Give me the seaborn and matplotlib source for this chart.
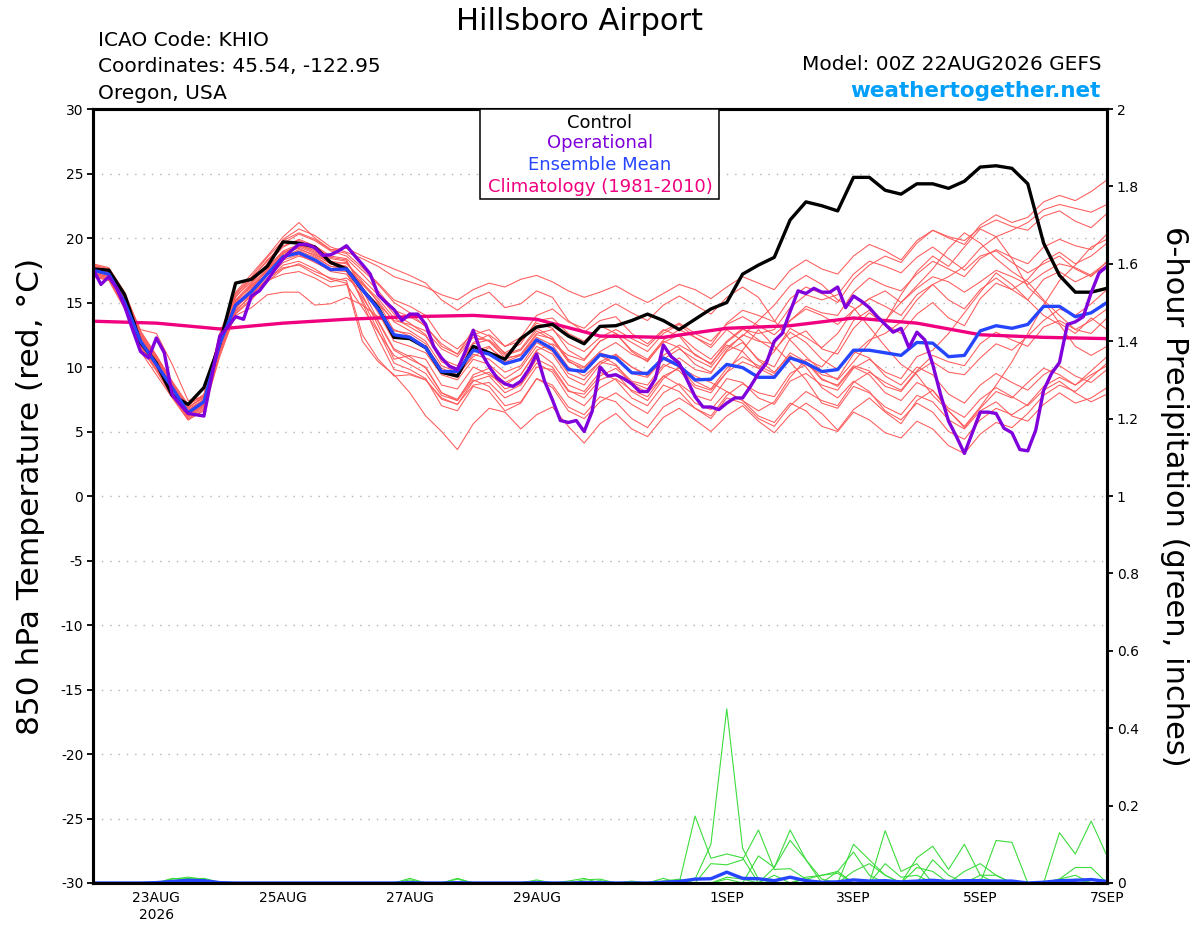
import numpy as np
import pandas as pd
import matplotlib
matplotlib.use("Agg")
import matplotlib.pyplot as plt
import matplotlib.patches as mpatches
import seaborn as sns

sns.set_style("white")
plt.rcParams['font.family'] = ['DejaVu Sans']
plt.rcParams['axes.unicode_minus'] = False
plt.rcParams['text.color'] = 'black'
plt.rcParams['xtick.color'] = 'black'
plt.rcParams['ytick.color'] = 'black'
plt.rcParams['axes.labelcolor'] = 'black'

RUN_START = "2026-08-22 00:00"

# 6-hourly control run, 850 hPa temperature (C)
control = [17.6, 17.5, 15.6, 11.9, 10.3, 7.8, 7.1, 8.4, 11.8, 16.5, 16.8, 17.8, 19.7,
           19.6, 19.3, 18.1, 17.6, 16.0, 14.6, 12.3, 12.2, 11.5, 9.6, 9.3, 11.6, 11.1,
           10.6, 12.2, 13.1, 13.3, 12.4, 11.8, 13.15, 13.2, 13.6, 14.1, 13.6, 12.9, 13.7,
           14.5, 15.0, 17.2, 17.9, 18.5, 21.4, 22.8, 22.5, 22.1, 24.7, 24.7, 23.7, 23.4,
           24.2, 24.2, 23.85, 24.4, 25.5, 25.6, 25.4, 24.2, 19.6, 17.1, 15.8, 15.8, 16.1]

# 3-hourly operational run
operational = [17.6, 16.4, 17.0, 16.1, 14.7, 12.9, 11.2, 10.7, 12.25, 11.1, 7.85, 7.1, 6.4, 6.3, 6.2, 9.3,
               12.4, 13.1, 13.9, 13.7, 15.5, 15.9, 16.7, 17.6, 18.4, 19.0, 19.5, 19.5, 19.25, 18.65, 18.7, 19.0,
               19.4, 18.65, 17.95, 17.2, 15.6, 15.0, 14.45, 13.6, 14.1, 14.1, 13.3, 11.6, 10.7, 10.05, 9.8, 11.2,
               12.85, 11.1, 10.05, 9.15, 8.7, 8.5, 8.9, 9.8, 11.0, 8.9, 7.45, 5.85, 5.7, 5.85, 5.0, 6.55,
               10.0, 9.3, 9.4, 9.1, 8.7, 8.1, 8.1, 9.1, 11.7, 10.8, 10.3, 9.0, 7.7, 6.9, 6.9, 6.7,
               7.2, 7.6, 7.6, 8.5, 9.5, 10.3, 12.0, 12.6, 14.3, 15.9, 15.7, 16.1, 15.8, 15.8, 16.2, 14.6,
               15.5, 15.1, 14.6, 13.9, 13.3, 12.7, 13.0, 11.5, 12.7, 12.1, 10.2, 7.85, 5.8, 4.6, 3.3, 4.9,
               6.5, 6.5, 6.4, 5.25, 4.9, 3.6, 3.5, 5.1, 8.2, 9.5, 10.35, 13.3, 13.5, 13.9, 15.75, 17.3,
               17.8]

# 6-hourly ensemble mean
ens_mean = [17.5, 17.2, 15.0, 12.0, 10.2, 8.4, 6.45, 7.3, 11.8, 14.8, 15.85, 17.2, 18.55,
            18.85, 18.3, 17.55, 17.6, 16.0, 14.5, 12.5, 12.3, 11.5, 9.65, 9.65, 11.3, 11.0,
            10.25, 10.6, 12.1, 11.4, 9.8, 9.65, 10.95, 10.7, 9.55, 9.5, 10.7, 10.1, 9.0,
            9.05, 10.2, 9.95, 9.2, 9.2, 10.7, 10.3, 9.65, 9.8, 11.3, 11.3, 11.1, 10.9,
            11.9, 11.85, 10.8, 10.9, 12.8, 13.2, 13.0, 13.3, 14.7, 14.7, 13.9, 14.2, 15.0]

# daily climatology (1981-2010)
climatology = [13.55, 13.4, 12.95, 13.4, 13.7, 13.9, 14.0, 13.7, 12.4,
               12.3, 13.0, 13.2, 13.8, 13.4, 12.5, 12.3, 12.2]

# 6-hourly ensemble members
members = {
    "p01": [17.9, 17.6, 15.6, 12.6, 10.8, 8.7, 7.0, 7.9, 12.3, 15.6, 16.9, 18.2, 19.6,
            20.3, 19.8, 19.0, 18.6, 17.5, 16.4, 15.0, 14.2, 13.1, 11.8, 11.0, 12.5, 12.9,
            11.6, 12.0, 13.4, 13.0, 11.3, 10.6, 12.0, 12.6, 11.2, 10.4, 12.0, 11.5, 10.2,
            9.6, 11.2, 11.9, 10.6, 10.0, 12.2, 12.8, 11.4, 11.0, 13.0, 14.2, 13.3, 12.6,
            14.1, 15.0, 13.8, 13.2, 15.3, 16.5, 16.0, 16.8, 18.2, 18.9, 18.0, 18.6, 19.6],
    "p02": [17.3, 17.0, 14.9, 11.8, 10.0, 8.0, 6.2, 7.0, 11.6, 15.0, 16.4, 18.0, 19.9,
            20.7, 20.2, 19.3, 18.9, 18.4, 17.8, 17.0, 16.6, 16.2, 15.6, 15.2, 16.0, 16.5,
            16.2, 16.8, 17.1, 16.6, 15.9, 15.4, 15.8, 16.3, 15.6, 15.0, 15.7, 16.4, 16.0,
            15.3, 16.2, 17.0, 16.5, 16.0, 17.5, 18.3, 17.6, 17.2, 18.6, 19.5, 19.0, 18.3,
            19.8, 20.6, 20.0, 19.5, 21.0, 21.8, 21.2, 21.6, 22.8, 23.3, 22.9, 23.6, 24.5],
    "p03": [17.0, 16.7, 14.5, 11.2, 9.4, 7.6, 5.9, 6.6, 10.8, 14.2, 15.3, 16.7, 17.9,
            18.2, 17.6, 16.8, 16.5, 12.0, 10.4, 9.4, 8.0, 6.2, 5.0, 3.6, 5.6, 6.8,
            6.5, 5.2, 6.3, 6.9, 5.4, 4.1, 5.6, 6.4, 5.2, 4.6, 6.1, 6.8, 5.9,
            5.0, 6.2, 7.0, 5.8, 4.9, 6.3, 7.2, 6.4, 5.1, 6.7, 7.6, 6.5, 5.6,
            7.4, 8.2, 6.6, 5.3, 6.8, 8.1, 7.6, 8.8, 9.9, 9.4, 8.6, 9.7, 10.8],
    "p04": [17.7, 17.4, 15.3, 12.3, 10.4, 8.4, 6.5, 7.2, 11.9, 15.2, 16.2, 17.5, 18.7,
            19.3, 18.8, 18.0, 18.1, 16.6, 15.0, 12.8, 12.6, 11.8, 9.5, 9.2, 11.0, 10.6,
            9.6, 10.1, 11.9, 11.2, 9.5, 9.0, 10.4, 10.1, 8.9, 8.6, 10.2, 9.7, 8.4,
            8.0, 9.6, 10.4, 9.9, 11.2, 13.0, 12.3, 11.5, 12.6, 14.4, 15.3, 14.7, 14.0,
            15.6, 16.4, 15.2, 14.5, 16.0, 16.9, 16.0, 15.2, 16.8, 17.4, 16.6, 17.2, 18.1],
    "p05": [17.4, 17.1, 15.0, 12.0, 10.0, 8.1, 6.3, 7.1, 11.3, 14.4, 15.5, 16.9, 18.1,
            18.6, 18.2, 17.4, 17.2, 15.4, 13.5, 11.3, 10.6, 10.0, 8.0, 7.5, 9.2, 9.6,
            8.3, 8.7, 10.6, 10.0, 8.2, 7.6, 9.0, 9.5, 8.1, 7.4, 9.1, 10.0, 9.3,
            8.8, 8.1, 7.4, 6.6, 7.3, 9.2, 10.6, 10.0, 11.4, 13.6, 14.4, 13.5, 15.6,
            17.4, 18.6, 17.8, 19.3, 20.7, 20.1, 18.4, 16.2, 15.1, 13.4, 12.6, 13.8, 12.9],
    "p06": [17.6, 17.5, 15.5, 12.9, 12.6, 10.2, 7.4, 7.7, 12.1, 14.9, 15.7, 16.8, 17.7,
            17.9, 17.2, 16.6, 16.9, 15.9, 14.9, 13.6, 13.3, 12.8, 11.4, 10.8, 12.3, 12.0,
            10.9, 11.3, 12.8, 12.1, 10.4, 9.9, 11.1, 10.7, 9.5, 9.2, 10.6, 10.0, 8.6,
            8.2, 9.6, 11.3, 12.9, 11.6, 10.4, 9.0, 7.2, 6.8, 8.5, 8.0, 6.9, 6.3,
            7.8, 7.3, 5.9, 5.2, 6.6, 7.3, 6.2, 5.8, 7.1, 8.0, 7.2, 7.6, 8.4],
    "p07": [17.2, 16.9, 14.8, 11.6, 9.8, 7.8, 6.1, 6.9, 11.0, 14.1, 15.2, 16.6, 17.6,
            18.0, 17.4, 16.9, 16.7, 12.5, 10.6, 9.3, 9.4, 9.0, 7.6, 7.1, 8.6, 8.8,
            7.6, 8.2, 10.0, 9.8, 8.1, 7.9, 9.3, 9.9, 8.8, 8.3, 10.0, 10.7, 9.8,
            9.5, 11.3, 12.5, 12.0, 11.8, 13.6, 14.7, 14.2, 14.0, 15.8, 16.9, 16.3, 15.9,
            17.2, 18.2, 17.6, 17.0, 18.4, 19.1, 18.5, 18.0, 19.3, 19.9, 19.4, 19.1, 20.3],
    "p08": [18.0, 17.7, 15.8, 12.8, 10.9, 8.8, 6.9, 7.6, 12.6, 15.8, 17.2, 18.6, 20.1,
            21.2, 20.0, 19.1, 19.2, 18.6, 18.1, 17.6, 17.1, 16.5, 15.2, 14.4, 15.3, 15.8,
            14.6, 14.9, 15.9, 15.4, 13.6, 12.7, 13.6, 13.9, 12.6, 11.8, 12.9, 12.4, 10.9,
            10.3, 11.7, 11.2, 9.9, 9.3, 10.8, 10.4, 9.0, 8.6, 10.1, 9.7, 8.5, 8.1,
            9.6, 10.4, 9.6, 9.4, 10.7, 11.8, 11.3, 12.4, 13.6, 14.5, 14.0, 14.9, 16.0],
    "p09": [17.5, 17.2, 15.2, 12.2, 10.3, 8.3, 6.4, 7.2, 11.5, 14.6, 15.8, 17.2, 18.5,
            19.1, 18.7, 18.0, 17.8, 15.6, 13.2, 10.6, 10.9, 10.6, 8.6, 8.3, 10.0, 9.4,
            8.6, 9.4, 11.2, 10.3, 8.6, 8.1, 9.6, 9.0, 7.6, 7.0, 8.6, 8.1, 6.8,
            6.2, 7.8, 8.7, 8.0, 7.7, 9.5, 10.2, 9.4, 9.1, 11.0, 12.1, 12.6, 13.5,
            15.2, 16.4, 17.0, 17.8, 19.2, 20.1, 20.6, 21.2, 22.2, 22.6, 22.3, 22.0, 22.6],
    "p10": [17.3, 17.0, 14.9, 11.9, 10.1, 8.2, 6.6, 7.5, 11.4, 14.0, 14.6, 15.6, 15.8,
            15.8, 14.8, 14.9, 15.4, 14.8, 13.9, 12.9, 12.4, 11.6, 9.9, 9.4, 10.8, 11.5,
            10.6, 11.0, 12.6, 12.9, 11.8, 11.2, 12.3, 12.9, 12.2, 11.6, 12.8, 13.4, 12.6,
            12.0, 13.3, 13.9, 13.2, 12.5, 13.6, 14.5, 14.0, 13.3, 14.4, 15.3, 15.9, 15.0,
            16.1, 17.0, 16.6, 15.8, 16.6, 17.5, 17.0, 16.4, 17.3, 18.0, 17.7, 17.1, 17.9],
    "p11": [17.8, 17.5, 15.4, 12.4, 10.6, 8.6, 6.8, 7.7, 12.2, 15.4, 16.8, 18.3, 19.4,
            19.8, 19.3, 18.5, 18.3, 16.0, 13.6, 11.4, 10.8, 9.9, 8.0, 7.4, 9.0, 8.5,
            7.0, 7.3, 9.1, 8.6, 6.9, 6.3, 7.7, 7.3, 6.0, 5.3, 6.9, 7.6, 6.8,
            6.0, 7.6, 7.2, 6.0, 5.4, 7.0, 8.1, 7.4, 7.0, 8.8, 9.6, 8.8, 8.2,
            9.7, 10.9, 10.4, 10.1, 11.8, 12.7, 12.1, 11.6, 13.1, 13.6, 12.9, 12.6, 13.8],
    "p12": [17.6, 17.3, 15.0, 11.9, 10.1, 8.0, 6.2, 7.0, 11.9, 15.1, 16.3, 17.7, 19.0,
            19.5, 19.0, 18.2, 18.0, 16.8, 15.6, 14.1, 13.4, 12.5, 10.4, 9.9, 11.8, 12.1,
            11.1, 11.8, 13.6, 13.8, 12.6, 12.0, 13.2, 12.6, 11.3, 10.6, 12.1, 12.9, 12.3,
            11.7, 13.4, 14.4, 14.0, 13.5, 15.3, 16.2, 15.7, 15.0, 16.8, 17.9, 18.6, 18.1,
            19.6, 20.6, 20.1, 19.8, 20.8, 21.4, 20.9, 20.6, 21.7, 22.1, 21.3, 20.8, 21.9],
    "p13": [17.1, 16.8, 14.7, 11.7, 9.9, 8.0, 6.3, 7.1, 11.2, 14.3, 15.6, 17.1, 18.3,
            18.7, 18.1, 17.5, 17.4, 15.2, 12.8, 10.3, 9.8, 9.1, 7.0, 6.6, 8.5, 8.1,
            6.6, 7.2, 9.1, 8.4, 6.6, 6.0, 7.3, 8.0, 7.1, 6.4, 8.0, 8.7, 7.8,
            7.4, 9.1, 8.8, 7.6, 7.1, 8.9, 9.5, 8.6, 8.2, 9.9, 10.6, 9.6, 9.1,
            10.8, 11.3, 12.6, 14.2, 15.8, 17.3, 16.4, 15.2, 14.0, 13.3, 11.6, 10.9, 11.6],
    "p14": [17.9, 17.6, 15.7, 12.7, 10.9, 8.9, 7.1, 7.8, 12.4, 15.5, 16.6, 17.8, 18.9,
            19.2, 18.6, 17.8, 17.6, 16.4, 15.1, 13.5, 12.8, 12.0, 10.1, 9.6, 11.2, 11.6,
            10.4, 10.9, 12.5, 12.2, 10.6, 10.0, 11.2, 11.9, 11.0, 10.5, 11.9, 12.5, 11.4,
            10.6, 12.0, 13.0, 12.1, 11.3, 12.7, 11.9, 10.6, 9.8, 11.2, 10.7, 9.3, 8.6,
            10.0, 9.4, 7.9, 7.2, 8.6, 9.5, 8.8, 8.2, 9.4, 10.1, 9.3, 8.8, 9.8],
    "p15": [17.4, 17.1, 15.2, 12.3, 10.5, 8.5, 6.6, 7.4, 12.0, 15.2, 16.5, 18.0, 19.3,
            19.9, 19.4, 18.6, 18.4, 17.2, 15.9, 14.4, 13.9, 13.2, 11.6, 11.0, 12.9, 12.4,
            11.0, 11.4, 13.0, 12.3, 10.5, 9.7, 10.9, 10.2, 8.7, 8.0, 9.3, 8.6, 7.2,
            6.7, 8.1, 7.4, 6.2, 5.7, 7.2, 6.6, 5.4, 5.0, 6.5, 5.9, 4.9, 4.5,
            5.8, 5.2, 3.9, 3.3, 4.8, 5.7, 5.3, 6.4, 7.8, 8.6, 8.1, 9.2, 10.3],
    "p16": [17.2, 16.9, 14.9, 11.8, 9.9, 7.9, 6.0, 6.8, 11.2, 14.5, 15.9, 17.4, 18.8,
            19.4, 19.1, 18.4, 18.2, 16.2, 14.2, 12.0, 11.6, 11.1, 9.4, 9.0, 10.6, 10.2,
            9.1, 9.9, 11.6, 11.0, 9.2, 8.6, 10.2, 10.9, 10.0, 9.4, 10.9, 11.7, 11.0,
            10.2, 11.9, 12.9, 12.6, 12.9, 14.6, 15.6, 15.2, 15.6, 17.2, 18.2, 17.8, 17.3,
            18.5, 19.3, 18.4, 17.5, 18.6, 19.0, 18.1, 17.3, 18.0, 18.6, 17.6, 17.0, 18.2],
    "p17": [17.6, 17.4, 15.4, 12.5, 10.7, 8.6, 6.7, 7.5, 11.8, 14.7, 15.6, 16.7, 17.2,
            17.4, 16.9, 16.2, 16.4, 14.6, 12.7, 10.9, 10.2, 9.5, 7.8, 7.4, 9.4, 9.9,
            8.8, 9.4, 11.3, 11.8, 10.9, 10.5, 12.0, 12.6, 11.9, 11.2, 12.6, 13.3, 12.3,
            11.5, 12.9, 12.0, 10.5, 9.6, 10.9, 10.0, 8.4, 7.6, 8.9, 8.1, 6.6, 5.9,
            7.2, 6.5, 5.0, 4.4, 5.9, 6.8, 6.3, 7.1, 8.5, 9.2, 8.6, 9.4, 10.1],
    "p18": [17.8, 17.5, 15.5, 12.4, 10.6, 8.5, 6.8, 7.8, 12.5, 15.7, 17.0, 18.5, 19.8,
            20.4, 19.9, 19.1, 18.8, 17.7, 16.5, 15.2, 14.7, 14.0, 12.2, 11.4, 12.6, 12.0,
            10.7, 10.9, 12.3, 11.7, 10.0, 9.3, 10.4, 11.0, 10.0, 9.3, 10.6, 11.4, 10.6,
            10.0, 11.5, 12.4, 13.6, 14.8, 16.3, 17.1, 16.4, 15.2, 14.6, 13.1, 11.6, 10.2,
            9.4, 7.8, 6.6, 5.4, 6.9, 8.6, 10.4, 12.6, 14.8, 16.7, 17.9, 19.3, 19.9],
    "p19": [17.0, 16.8, 14.6, 11.5, 9.7, 7.7, 5.9, 6.7, 11.1, 14.8, 16.0, 17.6, 18.9,
            19.4, 18.9, 18.1, 17.8, 15.0, 12.2, 9.8, 9.5, 9.0, 7.5, 7.1, 8.9, 9.3,
            8.0, 8.6, 10.3, 9.6, 7.7, 7.0, 8.4, 9.1, 8.2, 7.7, 9.3, 9.9, 8.9,
            8.3, 9.9, 10.8, 10.1, 9.5, 11.1, 10.4, 9.1, 8.5, 10.0, 9.4, 8.0, 7.4,
            8.8, 8.2, 6.8, 6.1, 7.5, 8.4, 7.7, 7.0, 8.2, 8.9, 8.0, 7.3, 7.9],
    "p20": [17.5, 17.3, 15.3, 12.2, 10.3, 8.4, 6.5, 7.3, 11.7, 14.9, 16.1, 17.6, 18.6,
            19.0, 18.5, 17.8, 17.7, 16.5, 15.3, 13.8, 13.1, 12.4, 10.6, 10.1, 11.9, 12.5,
            11.6, 12.3, 14.0, 14.5, 13.5, 13.0, 14.2, 14.9, 14.2, 13.6, 14.8, 15.5, 14.8,
            14.1, 15.4, 16.2, 15.4, 13.6, 12.1, 10.8, 9.7, 9.0, 10.4, 11.9, 13.6, 15.0,
            16.3, 17.6, 19.2, 20.4, 19.6, 18.4, 17.4, 16.6, 15.2, 14.0, 12.9, 13.6, 14.5],
}

# 6-hourly precipitation (inches) of the members that had any
precip_members = {
    "p01": [0, 0, 0, 0, 0, 0.006, 0.012, 0.008, 0, 0, 0, 0, 0,
            0, 0, 0, 0, 0, 0, 0, 0, 0, 0, 0, 0, 0,
            0, 0, 0, 0, 0, 0, 0, 0, 0, 0, 0, 0, 0.01,
            0.10, 0.45, 0.09, 0.01, 0, 0, 0, 0, 0, 0.10, 0.06, 0.02, 0,
            0, 0, 0, 0, 0, 0, 0, 0, 0, 0.13, 0.075, 0.16, 0.07],
    "p02": [0, 0, 0, 0, 0, 0.004, 0.01, 0.012, 0.002, 0, 0, 0, 0,
            0, 0, 0, 0, 0, 0, 0, 0, 0, 0, 0, 0, 0,
            0, 0, 0, 0, 0, 0, 0, 0, 0, 0, 0, 0, 0.173,
            0.064, 0.075, 0.065, 0, 0.04, 0.137, 0.06, 0, 0, 0, 0, 0.135, 0.03,
            0.05, 0, 0, 0, 0, 0, 0, 0, 0, 0, 0.01, 0, 0],
    "p03": [0, 0, 0, 0, 0, 0, 0.005, 0, 0, 0, 0, 0, 0,
            0, 0, 0, 0, 0, 0, 0, 0.012, 0, 0, 0.012, 0, 0,
            0, 0, 0.008, 0, 0, 0, 0.006, 0, 0, 0, 0, 0, 0,
            0.05, 0.047, 0.06, 0.137, 0.035, 0.037, 0.01, 0, 0.03, 0.08, 0.02, 0, 0,
            0.065, 0.095, 0.035, 0.10, 0.02, 0, 0, 0, 0, 0, 0, 0, 0],
    "p04": [0, 0, 0, 0, 0, 0, 0, 0, 0, 0, 0, 0, 0,
            0, 0, 0, 0, 0, 0, 0, 0, 0, 0, 0, 0, 0,
            0, 0, 0, 0, 0, 0, 0, 0, 0, 0, 0.005, 0.01, 0,
            0, 0.01, 0, 0.07, 0.04, 0.11, 0.06, 0.01, 0, 0.03, 0.05, 0.02, 0,
            0, 0.06, 0.02, 0, 0, 0.11, 0.105, 0, 0, 0, 0, 0, 0],
    "p05": [0, 0, 0, 0, 0, 0, 0, 0, 0, 0, 0, 0, 0,
            0, 0, 0, 0, 0, 0, 0, 0, 0, 0, 0, 0, 0,
            0, 0, 0, 0, 0, 0, 0, 0, 0, 0, 0, 0, 0,
            0, 0, 0, 0, 0, 0, 0.01, 0.02, 0.03, 0, 0, 0.05, 0.015,
            0.02, 0, 0, 0.03, 0.05, 0.02, 0, 0, 0, 0.01, 0.04, 0.04, 0],
    "p06": [0, 0, 0, 0, 0, 0.01, 0.015, 0.01, 0, 0, 0, 0, 0,
            0, 0, 0, 0, 0, 0, 0, 0.008, 0, 0, 0, 0, 0,
            0, 0, 0.005, 0, 0, 0.008, 0.01, 0, 0.005, 0, 0.012, 0, 0,
            0, 0.015, 0.01, 0, 0.02, 0, 0, 0, 0, 0, 0, 0, 0,
            0, 0, 0, 0, 0.02, 0.02, 0, 0, 0, 0.01, 0.02, 0, 0],
    "p07": [0, 0, 0, 0, 0, 0.012, 0.01, 0.004, 0, 0, 0, 0, 0,
            0, 0, 0, 0, 0, 0, 0, 0, 0, 0, 0.01, 0, 0,
            0, 0, 0, 0, 0.005, 0.012, 0, 0, 0, 0, 0, 0, 0,
            0, 0, 0, 0, 0, 0, 0.015, 0.02, 0.025, 0, 0, 0, 0,
            0.04, 0.03, 0, 0, 0.01, 0, 0, 0, 0, 0, 0, 0, 0],
}

precip_mean = [0, 0, 0, 0, 0.001, 0.004, 0.007, 0.006, 0.001, 0, 0, 0, 0,
               0, 0, 0, 0, 0, 0, 0, 0.001, 0, 0, 0.001, 0, 0,
               0, 0, 0.001, 0, 0, 0.001, 0.001, 0, 0, 0, 0.002, 0.004, 0.010,
               0.011, 0.028, 0.012, 0.011, 0.006, 0.015, 0.006, 0.002, 0.003, 0.008, 0.005, 0.006, 0.003,
               0.005, 0.007, 0.004, 0.006, 0.006, 0.005, 0.005, 0.0, 0.002, 0.006, 0.007, 0.009, 0.004]

tick_days = ["2026-08-23", "2026-08-25", "2026-08-27", "2026-08-29",
             "2026-09-01", "2026-09-03", "2026-09-05", "2026-09-07"]
tick_labels = ["23AUG\n2026", "25AUG", "27AUG", "29AUG", "1SEP", "3SEP", "5SEP", "7SEP"]

# ===== Colours =====
C_MEMBER = "#ff5a5a"
C_PRECIP = "#3ddc3d"
C_CONTROL = "black"
C_OPER = "#8000dc"
C_MEAN = "#2545ff"
C_CLIM = "#f0007f"

for k, v in members.items():
    assert len(v) == 65, (k, len(v))
for k, v in precip_members.items():
    assert len(v) == 65, (k, len(v))

t6 = pd.date_range(RUN_START, periods=65, freq="6h")
t3 = pd.date_range(RUN_START, periods=len(operational), freq="3h")
t24 = pd.date_range(RUN_START, periods=len(climatology), freq="D")

mem_df = pd.DataFrame({
    "time": np.tile(t6, len(members)),
    "temp": np.concatenate([members[k] for k in members]),
    "member": np.repeat(list(members.keys()), 65),
})
pr_df = pd.DataFrame({
    "time": np.tile(t6, len(precip_members)),
    "precip": np.concatenate([precip_members[k] for k in precip_members]),
    "member": np.repeat(list(precip_members.keys()), 65),
})

# ===== Figure =====
W, H = 1200, 927
fig = plt.figure(figsize=(W / 100, H / 100), dpi=100)
ax = fig.add_axes([93 / W, 1 - 883 / H, 1014 / W, 774 / H])

sns.lineplot(data=mem_df, x="time", y="temp", units="member", estimator=None,
             color=C_MEMBER, lw=0.75, ax=ax, legend=False, zorder=2)
sns.lineplot(x=t24, y=climatology, color=C_CLIM, lw=2.4, ax=ax, zorder=3)
sns.lineplot(x=t6, y=control, color=C_CONTROL, lw=2.4, ax=ax, zorder=4)
sns.lineplot(x=t6, y=ens_mean, color=C_MEAN, lw=2.4, ax=ax, zorder=5)
sns.lineplot(x=t3, y=operational, color=C_OPER, lw=2.4, ax=ax, zorder=6)

ax.set_xlim(t6[0], t6[-1])
ax.set_ylim(-30, 30)
ax.set_yticks(range(-30, 31, 5))
ax.set_xticks(pd.to_datetime(tick_days))
ax.set_xticklabels(tick_labels)
ax.set_xlabel("")
ax.set_ylabel("")
ax.grid(axis="y", color="#b4b4b4", lw=1.0, ls=(0, (1, 5)))
ax.grid(axis="x", visible=False)
ax.tick_params(axis="y", direction="out", length=4, width=1.3, labelsize=10, pad=3)
ax.tick_params(axis="x", direction="out", length=3, width=1.3, labelsize=10, pad=3)

# precipitation on the right axis
ax2 = ax.twinx()
sns.lineplot(data=pr_df, x="time", y="precip", units="member", estimator=None,
             color=C_PRECIP, lw=0.8, ax=ax2, legend=False)
sns.lineplot(x=t6, y=precip_mean, color=C_MEAN, lw=2.4, ax=ax2)
ax2.set_ylim(0, 2)
ax2.set_xlim(t6[0], t6[-1])
ax2.set_yticks(np.arange(0, 2.01, 0.2))
ax2.set_yticklabels([f"{v:g}" for v in np.round(np.arange(0, 2.01, 0.2), 1)])
ax2.set_ylabel("")
ax2.tick_params(axis="y", direction="out", length=4, width=1.3, labelsize=10, pad=3)

for a in (ax, ax2):
    for s in a.spines.values():
        s.set_linewidth(2.2)
        s.set_color("black")

# legend box
ax2.add_patch(mpatches.Rectangle(((480 - 93) / 1014, (883 - 199) / 774),
                                 (719 - 480) / 1014, (199 - 109) / 774,
                                 transform=ax2.transAxes, facecolor="white",
                                 edgecolor="black", lw=1.1, zorder=10, clip_on=False))
for txt, col, yb in [("Control", C_CONTROL, 128), ("Operational", C_OPER, 148.5),
                     ("Ensemble Mean", C_MEAN, 170.5), ("Climatology (1981-2010)", C_CLIM, 192)]:
    fig.text(600 / W, 1 - yb / H, txt, color=col, fontsize=13, ha="center", va="baseline", zorder=11)

# header texts
fig.text(580 / W, 1 - 29.5 / H, "Hillsboro Airport", fontsize=22, ha="center", va="baseline")
fig.text(98 / W, 1 - 46 / H, "ICAO Code: KHIO", fontsize=14.5, ha="left", va="baseline")
fig.text(98 / W, 1 - 72.5 / H, "Coordinates: 45.54, -122.95", fontsize=14.5, ha="left", va="baseline")
fig.text(98 / W, 1 - 99 / H, "Oregon, USA", fontsize=14.5, ha="left", va="baseline")
fig.text(1101 / W, 1 - 70.5 / H, "Model: 00Z 22AUG2026 GEFS", fontsize=14.5, ha="right", va="baseline")
fig.text(1101 / W, 1 - 97 / H, "weathertogether.net", fontsize=15.5, fontweight="bold",
         color="#009ffa", ha="right", va="baseline")

# axis titles
fig.text(31 / W, 1 - 496 / H, "850 hPa Temperature (red, \u00b0C)", fontsize=22.5,
         rotation=90, ha="center", va="center")
fig.text(1174 / W, 1 - 496 / H, "6-hour Precipitation (green, inches)", fontsize=22,
         rotation=270, ha="center", va="center")

fig.savefig("out.png", dpi=100)
